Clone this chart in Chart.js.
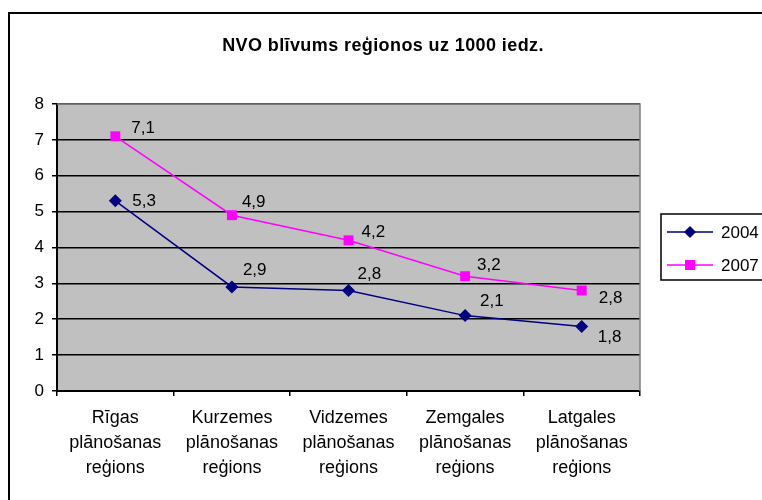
<!DOCTYPE html>
<html lang="lv">
<head>
  <meta charset="UTF-8">
  <title>NVO blīvums reģionos</title>
  <script src="https://cdn.jsdelivr.net/npm/chart.js"></script>
  <style>
    html, body { margin: 0; padding: 0; background: #fff; overflow: hidden; }
    #wrap { position: relative; width: 762px; height: 500px; }
    #frame {
      position: absolute; left: 8px; top: 12px; width: 800px; height: 520px;
      border-left: 2px solid #000; border-top: 2px solid #000;
    }
    canvas { position: absolute; left: 0; top: 0; }
  </style>
</head>
<body>
<div id="wrap">
  <div id="frame"></div>
  <canvas id="densityChart" width="762" height="500"></canvas>
</div>
<script>
  const regions = [
    ['Rīgas', 'plānošanas', 'reģions'],
    ['Kurzemes', 'plānošanas', 'reģions'],
    ['Vidzemes', 'plānošanas', 'reģions'],
    ['Zemgales', 'plānošanas', 'reģions'],
    ['Latgales', 'plānošanas', 'reģions']
  ];
  const years = ['2004', '2007'];
  const values2004 = [5.3, 2.9, 2.8, 2.1, 1.8];
  const values2007 = [7.1, 4.9, 4.2, 3.2, 2.8];
  const yTicks = [0, 1, 2, 3, 4, 5, 6, 7, 8];
  const chartTitle = 'NVO blīvums reģionos uz 1000 iedz.';

  const FONT = 'Liberation Sans, Arial, sans-serif';

  // grey plot background, frame and the title (centred on the whole frame)
  const plotBg = {
    id: 'plotBg',
    beforeDraw(chart) {
      const { ctx, chartArea: a } = chart;
      ctx.save();
      ctx.fillStyle = '#c0c0c0';
      ctx.fillRect(a.left, a.top, a.right - a.left, a.bottom - a.top);
      ctx.fillStyle = '#000';
      ctx.font = 'bold 18px ' + FONT;
      ctx.letterSpacing = '0.4px';
      ctx.textAlign = 'center';
      ctx.textBaseline = 'alphabetic';
      ctx.fillText(chartTitle, 383, 51);
      ctx.restore();
    },
    afterDatasetsDraw(chart) {
      const { ctx, chartArea: a } = chart;
      ctx.save();
      ctx.strokeStyle = '#808080';
      ctx.lineWidth = 1.5;
      ctx.beginPath();
      ctx.moveTo(a.left, a.top);
      ctx.lineTo(a.right, a.top);
      ctx.lineTo(a.right, a.bottom);
      ctx.stroke();
      ctx.restore();
    }
  };

  // value labels next to the points
  const valueLabels = {
    id: 'valueLabels',
    afterDatasetsDraw(chart, args, opts) {
      const { ctx } = chart;
      ctx.save();
      ctx.font = '17px ' + FONT;
      ctx.fillStyle = '#000';
      ctx.textAlign = 'left';
      ctx.textBaseline = 'middle';
      chart.data.datasets.forEach((ds, i) => {
        const meta = chart.getDatasetMeta(i);
        meta.data.forEach((pt, j) => {
          const off = opts.offsets[i][j];
          ctx.fillText(String(ds.data[j]).replace('.', ','), pt.x + off[0], pt.y + off[1]);
        });
      });
      ctx.restore();
    }
  };

  // legend box on the right, as in the original
  const sideLegend = {
    id: 'sideLegend',
    afterDraw(chart) {
      const { ctx } = chart;
      ctx.save();
      ctx.fillStyle = '#fff';
      ctx.fillRect(661, 214, 120, 66);
      ctx.strokeStyle = '#000';
      ctx.lineWidth = 1.5;
      ctx.strokeRect(661, 214, 120, 66);
      chart.data.datasets.forEach((ds, i) => {
        const y = 232 + i * 33;
        ctx.strokeStyle = ds.borderColor;
        ctx.lineWidth = 1.5;
        ctx.beginPath();
        ctx.moveTo(667, y);
        ctx.lineTo(713, y);
        ctx.stroke();
        ctx.fillStyle = ds.backgroundColor;
        ctx.beginPath();
        if (ds.pointStyle === 'rectRot') {
          ctx.moveTo(690, y - 6); ctx.lineTo(696, y); ctx.lineTo(690, y + 6); ctx.lineTo(684, y);
        } else {
          ctx.rect(685, y - 5, 10, 10);
        }
        ctx.closePath();
        ctx.fill();
        ctx.fillStyle = '#000';
        ctx.font = '17px ' + FONT;
        ctx.textBaseline = 'middle';
        ctx.fillText(ds.label, 721, y + 1);
      });
      ctx.restore();
    }
  };

  new Chart(document.getElementById('densityChart'), {
    type: 'line',
    data: {
      labels: regions,
      datasets: [
        {
          label: years[0],
          data: values2004,
          borderColor: '#000080',
          backgroundColor: '#000080',
          borderWidth: 1.5,
          pointStyle: 'rectRot',
          pointRadius: 6.5,
          pointBorderWidth: 0,
          tension: 0
        },
        {
          label: years[1],
          data: values2007,
          borderColor: '#ff00ff',
          backgroundColor: '#ff00ff',
          borderWidth: 1.5,
          pointStyle: 'rect',
          pointRadius: 7,
          pointBorderWidth: 0,
          tension: 0
        }
      ]
    },
    options: {
      responsive: false,
      animation: false,
      layout: { padding: { left: 0, right: 122, top: 104, bottom: 9 } },
      plugins: {
        legend: { display: false },
        tooltip: { enabled: false },
        title: { display: false },
        valueLabels: {
          offsets: [
            [[17, 0], [11, -17], [9, -16], [15, -14], [16, 11]],
            [[16, -8], [10, -13], [13, -8], [12, -11], [17, 8]]
          ]
        }
      },
      scales: {
        x: {
          offset: true,
          grid: {
            offset: true,
            drawOnChartArea: false,
            drawTicks: true,
            tickLength: 5,
            color: '#000',
            lineWidth: 1.5
          },
          border: { color: '#000', width: 2 },
          ticks: {
            color: '#000',
            font: { family: FONT, size: 18, lineHeight: 1.39 },
            padding: 10,
            maxRotation: 0,
            autoSkip: false
          }
        },
        y: {
          min: 0,
          max: 8,
          afterBuildTicks(axis) { axis.ticks = yTicks.map(v => ({ value: v })); },
          afterFit(axis) { axis.width = 57; },
          grid: {
            color: '#000',
            lineWidth: 1.5,
            tickLength: 5
          },
          border: { color: '#000', width: 2 },
          ticks: {
            color: '#000',
            font: { family: FONT, size: 17 },
            padding: 8
          }
        }
      }
    },
    plugins: [plotBg, valueLabels, sideLegend]
  });
</script>
</body>
</html>
